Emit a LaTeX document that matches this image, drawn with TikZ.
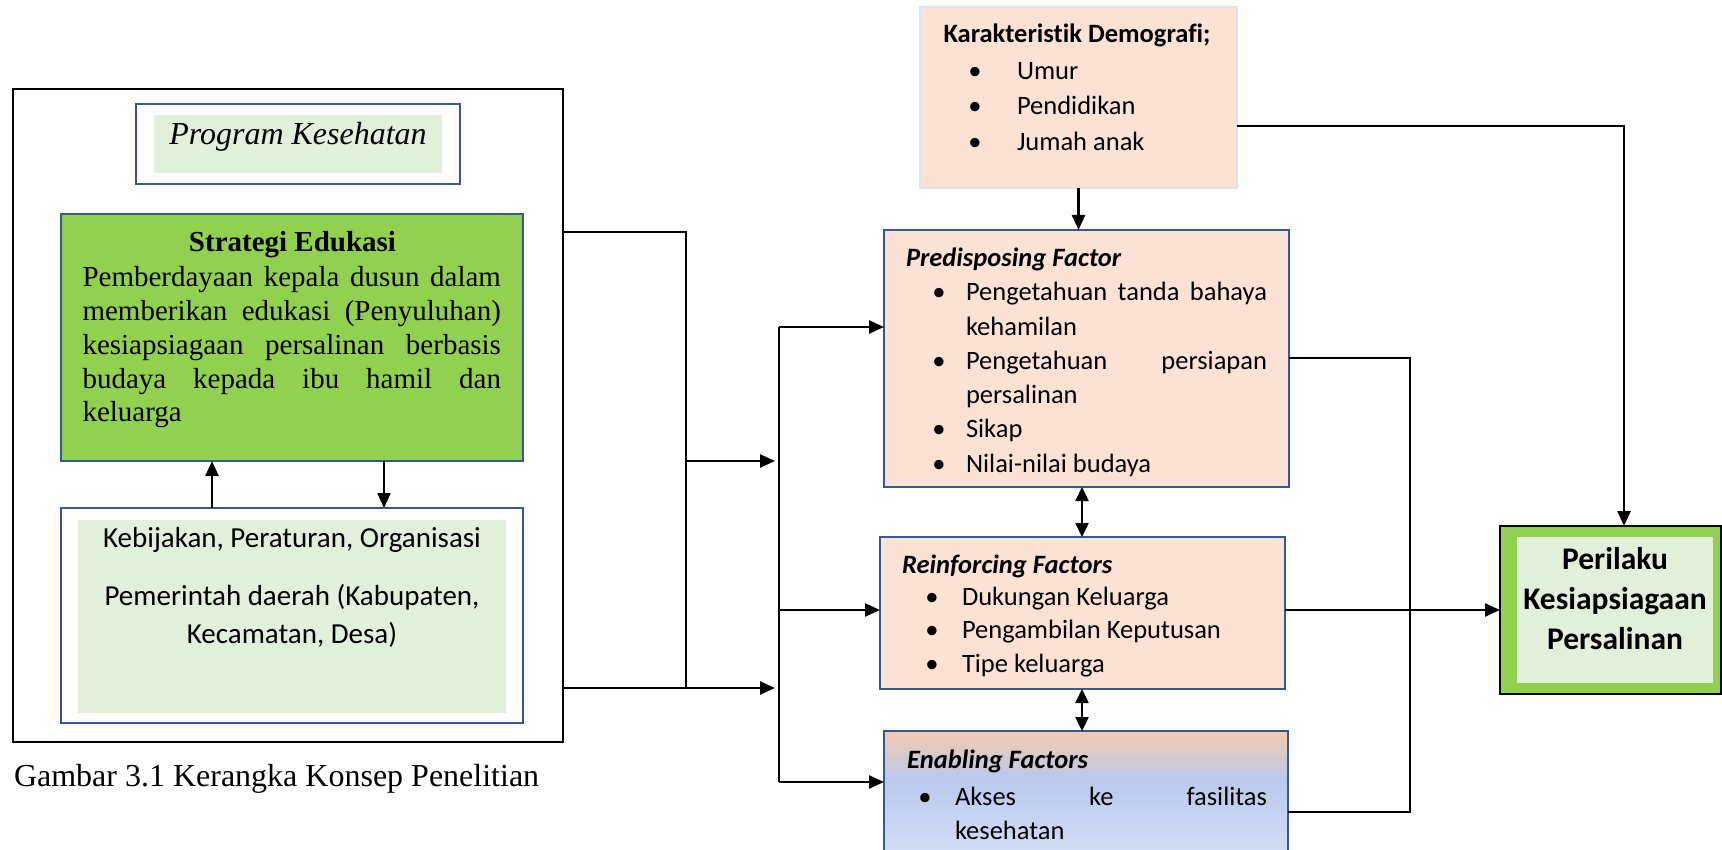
\documentclass[tikz,border=0pt]{standalone}
\usepackage{fontspec}
\setmainfont{Liberation Serif}
\newfontfamily\carl[Ligatures={NoCommon,NoContextual}]{Carlito}
\usetikzlibrary{arrows.meta}

\definecolor{boxblue}{RGB}{52,88,155}
\definecolor{peach}{RGB}{251,226,213}
\definecolor{leafgreen}{RGB}{146,208,80}
\definecolor{palegreen}{RGB}{226,239,218}
\definecolor{paleblue}{RGB}{218,227,243}
\definecolor{enabtop}{RGB}{244,202,172}
\definecolor{enabmid}{RGB}{186,201,237}
\definecolor{enabbot}{RGB}{218,227,247}

% peach fading into blue, top to bottom
\pgfdeclareverticalshading{enabshade}{100bp}{color(0bp)=(enabbot); color(25bp)=(enabbot); color(58bp)=(enabmid); color(75bp)=(enabtop); color(100bp)=(enabtop)}

\begin{document}
\begin{tikzpicture}[x=1pt,y=-1pt,
  conn/.style={line width=2.4pt},
  arr/.style={conn,-{Triangle[length=15pt,width=13pt]}},
  darr/.style={conn,{Triangle[length=14pt,width=13pt]}-{Triangle[length=14pt,width=13pt]}},
  panel/.style={inner sep=0pt,outer sep=0pt},
  bluebox/.style={panel,draw=boxblue,line width=2.6pt},
  txt/.style={inner sep=0pt,outer sep=0pt},
  sansbody/.style={txt,font=\carl\fontsize{29}{34}\selectfont},
  factor/.style={txt,font=\carl\fontsize{26.5}{34.2}\selectfont},
  factorhead/.style={txt,font=\carl\bfseries\itshape\fontsize{26.5}{34.2}\selectfont},
  bul/.style={txt,font=\carl\fontsize{26.5}{34.2}\selectfont},
  outcome/.style={txt,anchor=base,font=\carl\bfseries\fontsize{31.5}{40}\selectfont}
]
\clip (0,0) rectangle (1722,850);
\fill[white] (0,0) rectangle (1722,850);

% ---------- left panel ----------
\node[panel,draw=black,line width=2.4pt,minimum width=550pt,minimum height=653pt] (outer) at (288,415.5) {};
\node[bluebox,fill=white,minimum width=324pt,minimum height=80pt] (prog) at (298,144) {};
\node[panel,fill=palegreen,minimum width=288pt,minimum height=58pt] (proginner) at (298,144) {};
\node[txt,anchor=base,font=\fontsize{32}{38}\selectfont\itshape] (progt) at (298,145) {Program Kesehatan};

\node[bluebox,fill=leafgreen,minimum width=462pt,minimum height=247pt] (strat) at (292,337.5) {};
\node[txt,anchor=base,font={\fontsize{29}{34}\selectfont\bfseries}] (stratt) at (292.5,252) {Strategi Edukasi};
\node[txt,anchor=base west] (stratb) at (82.5,287) {\parbox[t]{418.5pt}{\fontsize{29}{33.7}\selectfont\tolerance=10000
  Pemberdayaan kepala dusun dalam\linebreak
  memberikan edukasi (Penyuluhan)\linebreak
  kesiapsiagaan persalinan berbasis\linebreak
  budaya kepada ibu hamil dan\linebreak
  keluarga}};

\node[bluebox,fill=white,minimum width=462pt,minimum height=215pt] (kebij) at (292,615.5) {};
\node[panel,fill=palegreen,minimum width=428pt,minimum height=193pt] (kebinner) at (292,616.5) {};
\node[sansbody,anchor=base] (keb1) at (292,547) {Kebijakan, Peraturan, Organisasi};
\node[sansbody,anchor=base] (keb2) at (292,605) {Pemerintah daerah (Kabupaten,};
\node[sansbody,anchor=base] (keb3) at (292,643) {Kecamatan, Desa)};

\coordinate (u) at (212,0);
\coordinate (v) at (384,0);
\draw[arr] (kebij.north -| u) -- (strat.south -| u);
\draw[arr] (strat.south -| v) -- (kebij.north -| v);

\node[txt,anchor=base west,font=\fontsize{32}{38}\selectfont] (cap) at (14,786) {Gambar 3.1 Kerangka Konsep Penelitian};

% ---------- factor boxes ----------
\node[panel,draw=paleblue,line width=2.6pt,fill=peach,minimum width=317pt,minimum height=181pt] (kar) at (1078.5,97.5) {};
\node[txt,anchor=base,font=\carl\bfseries\fontsize{26.5}{34}\selectfont] (kart) at (1077,43) {Karakteristik Demografi;};
\node[bul,anchor=base] (kb1) at (975,80) {\textbullet};
\node[bul,anchor=base] (kb2) at (975,115) {\textbullet};
\node[bul,anchor=base] (kb3) at (975,151) {\textbullet};
\node[factor,anchor=base west] (ki1) at (1017,80) {Umur};
\node[factor,anchor=base west] (ki2) at (1017,115) {Pendidikan};
\node[factor,anchor=base west] (ki3) at (1017,151) {Jumah anak};

\node[bluebox,fill=peach,minimum width=405pt,minimum height=257pt] (pred) at (1086.5,358.5) {};
\node[factorhead,anchor=base west] (predt) at (906,267) {Predisposing Factor};
\node[bul,anchor=base] (pb1) at (939,301) {\textbullet};
\node[bul,anchor=base] (pb2) at (939,369.4) {\textbullet};
\node[bul,anchor=base] (pb3) at (939,437.8) {\textbullet};
\node[bul,anchor=base] (pb4) at (939,472) {\textbullet};
\node[txt,anchor=base west] (pi1) at (966,301) {\parbox[t]{301pt}{\carl\fontsize{26.5}{34.2}\selectfont\tolerance=10000
  Pengetahuan tanda bahaya\linebreak kehamilan}};
\node[txt,anchor=base west] (pi2) at (966,369.4) {\parbox[t]{301pt}{\carl\fontsize{26.5}{34.2}\selectfont\tolerance=10000
  Pengetahuan persiapan\linebreak persalinan}};
\node[factor,anchor=base west] (pi3) at (966,437.8) {Sikap};
\node[factor,anchor=base west] (pi4) at (966,472) {Nilai-nilai budaya};

\node[bluebox,fill=peach,minimum width=405pt,minimum height=152pt] (reinf) at (1082.5,613) {};
\node[factorhead,anchor=base west] (reinft) at (902,573) {Reinforcing Factors};
\node[bul,anchor=base] (rb1) at (932,605) {\textbullet};
\node[bul,anchor=base] (rb2) at (932,638) {\textbullet};
\node[bul,anchor=base] (rb3) at (932,672) {\textbullet};
\node[factor,anchor=base west] (ri1) at (962,605) {Dukungan Keluarga};
\node[factor,anchor=base west] (ri2) at (962,638) {Pengambilan Keputusan};
\node[factor,anchor=base west] (ri3) at (962,672) {Tipe keluarga};

\node[bluebox,shading=enabshade,minimum width=404pt,minimum height=144pt] (enab) at (1086,803) {};
\node[factorhead,anchor=base west] (enabt) at (907,768) {Enabling Factors};
\node[bul,anchor=base] (eb1) at (925,805) {\textbullet};
\node[txt,anchor=base west] (ei1) at (955,805) {\parbox[t]{312pt}{\carl\fontsize{26.5}{34.2}\selectfont\tolerance=10000
  Akses ke fasilitas\linebreak kesehatan}};

% ---------- outcome ----------
\node[panel,draw=black,line width=2pt,fill=leafgreen,minimum width=221pt,minimum height=168pt] (peri) at (1610.5,610) {};
\node[panel,fill=palegreen,minimum width=196pt,minimum height=146pt] (periinner) at (1615,610) {};
\node[outcome] (pt1) at (1615,569) {Perilaku};
\node[outcome] (pt2) at (1615,609) {Kesiapsiagaan};
\node[outcome] (pt3) at (1615,649) {Persalinan};

% ---------- connectors ----------
\coordinate (j1) at (686,232);
\coordinate (j2) at (686,688);
\coordinate (j3) at (686,461);
\coordinate (t1) at (775,461);
\coordinate (t2) at (775,688);
\coordinate (b1) at (779,327);
\coordinate (b2) at (779,782);
\coordinate (b3) at (779,610);
\draw[conn] (outer.east |- j1) -- (j1) -- (j2);
\draw[arr] (outer.east |- t2) -- (t2);
\draw[arr] (j3) -- (t1);
\draw[conn] (b1) -- (b2);
\draw[arr] (b1) -- (pred.west |- b1);
\draw[arr] (b3) -- (reinf.west |- b3);
\draw[arr] (b2) -- (enab.west |- b2);

\draw[arr] (kar.south) -- (kar.south |- pred.north);
\coordinate (k1) at (1624,126);
\draw[arr] (kar.east |- k1) -- (k1) -- (k1 |- peri.north);

\coordinate (p1) at (1410,358);
\coordinate (p2) at (1410,812);
\draw[conn] (pred.east |- p1) -- (p1) -- (p2) -- (enab.east |- p2);
\draw[arr] (reinf.east |- b3) -- (peri.west |- b3);

\coordinate (d) at (1082,0);
\draw[darr] (pred.south -| d) -- (reinf.north -| d);
\draw[darr] (reinf.south -| d) -- (enab.north -| d);
\end{tikzpicture}
\end{document}
